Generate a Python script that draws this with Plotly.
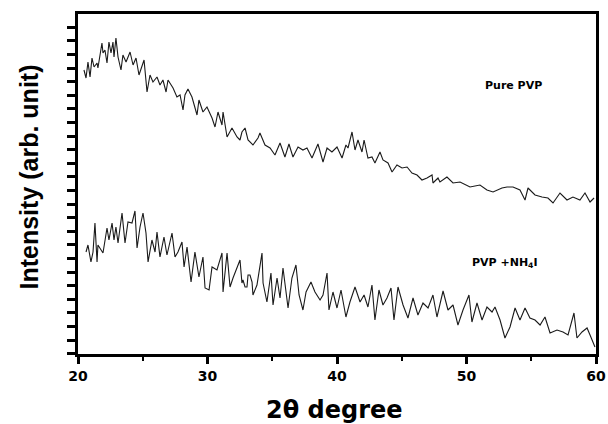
import plotly.graph_objects as go

# Pure PVP
pvp_2theta = [20.46, 20.62, 20.77, 20.93, 21.08, 21.24, 21.47, 21.54, 21.85, 21.93, 22.08, 22.24, 22.39, 22.55,
              22.70, 22.78, 22.93, 23.09, 23.32, 23.47, 23.71, 24.02, 24.25, 24.48, 24.71, 25.10, 25.33, 25.56,
              25.79, 26.10, 26.33, 26.56, 26.80, 26.95, 27.34, 27.64, 27.88, 28.11, 28.26, 28.49, 28.80, 29.19,
              29.34, 29.65, 29.96, 30.35, 30.58, 30.81, 31.12, 31.20, 31.51, 31.89, 32.28, 32.51, 32.66, 32.90,
              33.13, 33.51, 33.90, 34.05, 34.44, 34.83, 35.21, 35.60, 35.98, 36.29, 36.60, 36.99, 37.37, 37.68,
              38.07, 38.53, 38.92, 39.23, 39.61, 40.00, 40.39, 40.69, 40.85, 41.16, 41.39, 41.62, 41.93, 42.09,
              42.39, 42.70, 42.93, 43.32, 43.55, 43.94, 44.25, 44.63, 45.02, 45.41, 45.79, 46.18, 46.56, 46.95,
              47.34, 47.41, 47.80, 47.95, 48.49, 48.96, 49.50, 50.27, 51.04, 51.58, 52.05, 52.74, 53.13, 53.59,
              54.13, 54.52, 54.75, 55.29, 55.83, 56.29, 56.68, 57.22, 57.76, 58.22, 58.76, 59.15, 59.54, 59.85]
pvp_intensity = [284, 276, 292, 277, 296, 287, 291, 286, 311, 301, 304, 291, 312, 301,
                 312, 297, 316, 297, 284, 299, 292, 302, 289, 296, 279, 294, 262, 279,
                 272, 277, 269, 274, 262, 274, 266, 257, 259, 244, 259, 265, 257, 239,
                 254, 242, 247, 236, 227, 242, 229, 242, 217, 226, 217, 214, 222, 226,
                 214, 209, 216, 221, 209, 206, 199, 211, 197, 210, 197, 207, 204, 206,
                 196, 210, 192, 206, 202, 207, 196, 209, 206, 222, 204, 214, 202, 214,
                 196, 197, 191, 202, 194, 191, 182, 189, 186, 187, 181, 179, 174, 176,
                 179, 171, 176, 172, 177, 171, 172, 167, 169, 164, 162, 166, 167, 167,
                 164, 154, 166, 159, 157, 156, 151, 161, 154, 157, 154, 161, 152, 156]

# PVP + NH4I
nh4i_2theta = [20.62, 20.77, 21.00, 21.16, 21.31, 21.47, 21.54, 21.93, 22.24, 22.39, 22.63, 22.78, 22.93, 23.09,
               23.40, 23.63, 23.86, 24.17, 24.40, 24.56, 24.79, 25.02, 25.25, 25.41, 25.71, 25.95, 26.10, 26.33,
               26.64, 26.87, 27.26, 27.49, 27.72, 28.03, 28.19, 28.42, 28.73, 29.03, 29.34, 29.65, 29.81, 30.12,
               30.35, 30.73, 31.12, 31.20, 31.51, 31.74, 31.97, 32.51, 32.66, 32.74, 32.90, 33.05, 33.13, 33.28,
               33.44, 33.51, 33.82, 33.90, 34.21, 34.29, 34.59, 34.90, 35.06, 35.37, 35.60, 35.83, 36.22, 36.52,
               36.83, 37.07, 37.37, 37.61, 37.99, 38.30, 38.69, 38.92, 39.23, 39.38, 39.69, 40.00, 40.31, 40.69,
               41.00, 41.39, 41.78, 42.09, 42.39, 42.70, 42.93, 43.24, 43.55, 43.86, 44.17, 44.40, 44.71, 45.10,
               45.48, 45.87, 46.25, 46.64, 47.03, 47.41, 47.72, 48.19, 48.57, 48.96, 49.34, 49.73, 50.19, 50.42,
               50.81, 51.20, 51.58, 51.97, 52.20, 52.59, 52.97, 53.36, 53.75, 54.13, 54.52, 54.90, 55.29, 55.68,
               56.06, 56.45, 56.99, 57.45, 57.84, 58.30, 58.53, 58.92, 59.31, 59.54, 59.77, 59.92]
nh4i_intensity = [102, 109, 92, 102, 131, 92, 109, 101, 126, 114, 131, 114, 127, 111,
                  141, 111, 132, 131, 143, 106, 127, 141, 121, 92, 114, 102, 122, 97,
                  117, 99, 121, 97, 102, 112, 87, 107, 72, 102, 77, 97, 66, 64,
                  87, 84, 101, 62, 101, 67, 76, 94, 71, 74, 67, 67, 79, 79,
                  72, 59, 69, 76, 101, 71, 52, 81, 49, 76, 56, 86, 46, 76,
                  89, 59, 44, 62, 72, 62, 54, 59, 81, 44, 62, 46, 64, 37,
                  52, 67, 52, 59, 47, 69, 34, 64, 49, 56, 66, 34, 67, 49,
                  36, 56, 39, 51, 46, 59, 37, 63, 44, 49, 29, 44, 59, 32,
                  51, 34, 47, 42, 47, 34, 16, 27, 46, 34, 46, 36, 34, 29,
                  37, 21, 24, 22, 19, 41, 16, 22, 26, 19, 11, 7]

x_ticks = [20, 30, 40, 50, 60]
label_pvp = "Pure PVP"
label_nh4i = "PVP +NH<sub>4</sub>I"
x_title = "2θ degree"
y_title = "Intensity (arb. unit)"

WIDE = "DejaVu Sans, Verdana, sans-serif"
ARIAL = "Liberation Sans, Arial, sans-serif"

fig = go.Figure()
fig.add_trace(go.Scatter(x=pvp_2theta, y=pvp_intensity, mode="lines",
                         line=dict(color="#1a1a1a", width=1.1), showlegend=False))
fig.add_trace(go.Scatter(x=nh4i_2theta, y=nh4i_intensity, mode="lines",
                         line=dict(color="#1a1a1a", width=1.1), showlegend=False))

fig.add_annotation(x=53.6, y=269, text="<b>" + label_pvp + "</b>", showarrow=False,
                   font=dict(family=WIDE, size=11, color="black"))
fig.add_annotation(x=53.0, y=91, text="<b>" + label_nh4i + "</b>", showarrow=False,
                   font=dict(family=WIDE, size=11, color="black"))

# axis titles (plot area: 518 x 340 px)
fig.add_annotation(xref="paper", yref="paper", x=0.495, y=-0.165, xanchor="center", yanchor="middle",
                   text="<b>" + x_title + "</b>", showarrow=False,
                   font=dict(family=WIDE, size=24, color="black"))
fig.add_annotation(xref="paper", yref="paper", x=-0.094, y=0.52, xanchor="center", yanchor="middle",
                   text="<b>" + y_title + "</b>", showarrow=False, textangle=-90,
                   font=dict(family=ARIAL, size=25, color="black"))

fig.update_layout(
    width=608, height=424,
    margin=dict(l=78, r=12, t=14, b=70),
    paper_bgcolor="white", plot_bgcolor="white",
    font=dict(family=WIDE, color="black"),
    xaxis=dict(range=[20, 60], tickvals=x_ticks, ticktext=["<b>%d</b>" % v for v in x_ticks],
               ticks="outside", ticklen=7, tickwidth=2.5, tickcolor="black",
               minor=dict(dtick=5, tick0=20, ticks="outside", ticklen=4, tickwidth=2, tickcolor="black"),
               showline=True, linewidth=3, linecolor="black", mirror=True,
               showgrid=False, zeroline=False, automargin=False,
               tickfont=dict(family=WIDE, size=14, color="black")),
    yaxis=dict(range=[0, 340], tick0=14, dtick=13.6, showticklabels=False,
               ticks="outside", ticklen=8, tickwidth=2.5, tickcolor="black",
               showline=True, linewidth=3, linecolor="black", mirror=True,
               showgrid=False, zeroline=False, automargin=False),
)

fig.write_html("out.html", config={"displayModeBar": False},
               post_script="document.body.style.margin='0px';")
